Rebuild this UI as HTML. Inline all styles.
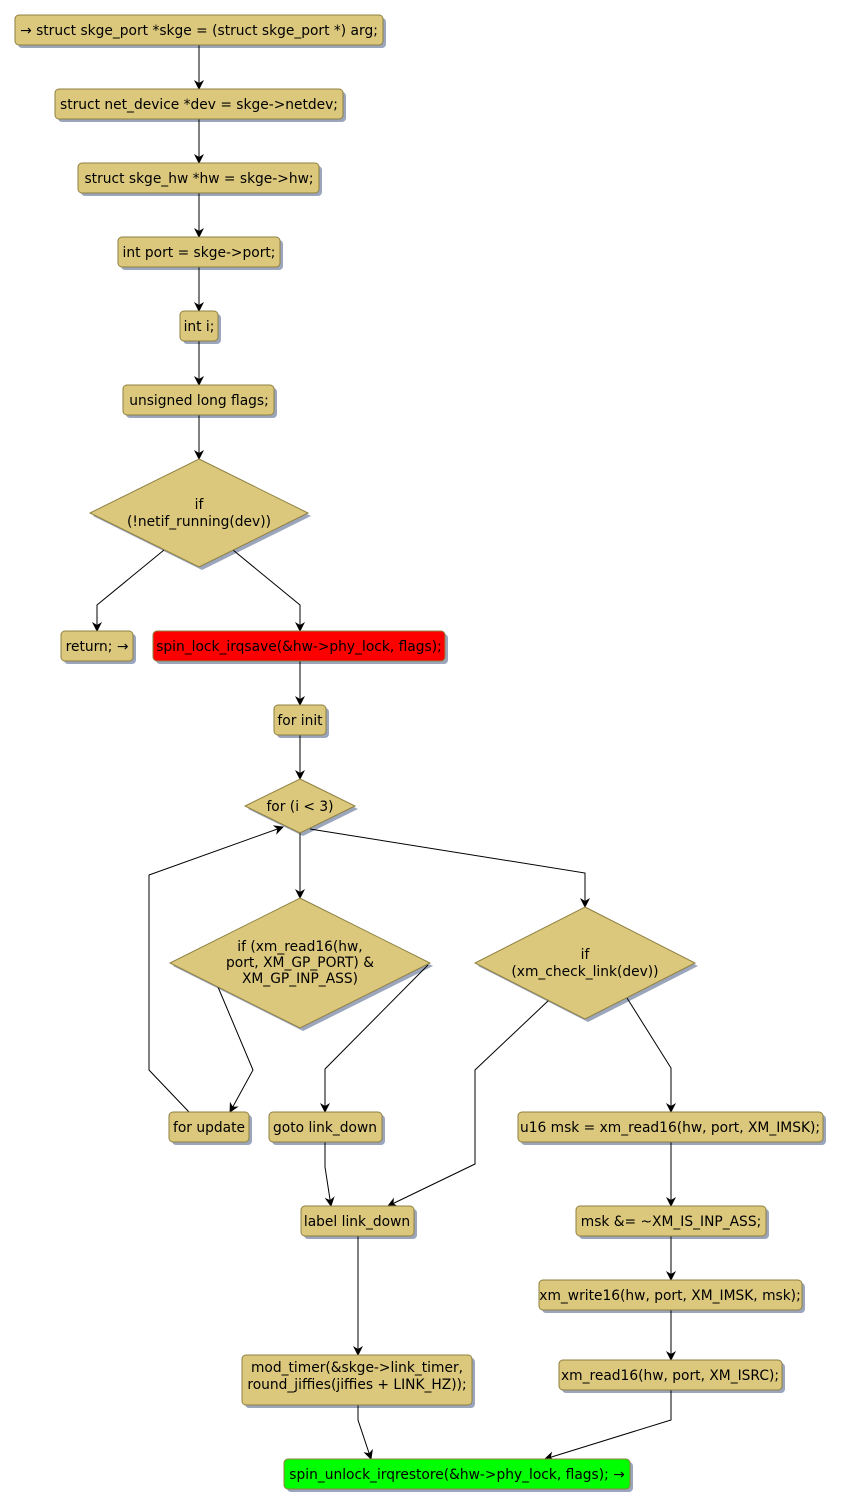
<!DOCTYPE html>
<html><head><meta charset="utf-8"><style>
html,body{margin:0;padding:0;background:#fff;}
svg{display:block;}
text{font-family:"DejaVu Sans","Liberation Sans",sans-serif;font-size:13.8px;fill:#000;}
.b{fill:#dbc87d;stroke:#8f8040;stroke-width:1;}
.s{fill:#9ba6bd;}
.e{fill:none;stroke:#000;stroke-width:1;}
</style></head><body>
<svg width="842" height="1508" viewBox="0 0 842 1508" xmlns="http://www.w3.org/2000/svg">
<defs><marker id="a" markerWidth="10" markerHeight="10" refX="9" refY="5" orient="auto" markerUnits="userSpaceOnUse"><path d="M0,0 L10,5 L0,10 L3,5 z" fill="#000"/></marker></defs>
<g>
<rect class="s" x="18" y="18" width="368" height="30" rx="4"/>
<rect class="s" x="58" y="92" width="288" height="30" rx="4"/>
<rect class="s" x="81" y="166" width="241" height="30" rx="4"/>
<rect class="s" x="121" y="240" width="162" height="30" rx="4"/>
<rect class="s" x="183" y="314" width="38" height="30" rx="4"/>
<rect class="s" x="126" y="388" width="151" height="30" rx="4"/>
<polygon class="s" points="202,462 311,516 202,570 93,516"/>
<rect class="s" x="64" y="634" width="72" height="30" rx="4"/>
<rect class="s" x="156" y="634" width="292" height="30" rx="4"/>
<rect class="s" x="277" y="708" width="52" height="30" rx="4"/>
<polygon class="s" points="303,782 358,809 303,836 248,809"/>
<polygon class="s" points="303,901 433,966 303,1031 173,966"/>
<polygon class="s" points="588,910 698,966 588,1022 478,966"/>
<rect class="s" x="172" y="1115" width="80" height="30" rx="4"/>
<rect class="s" x="272" y="1115" width="113" height="30" rx="4"/>
<rect class="s" x="521" y="1115" width="305" height="30" rx="4"/>
<rect class="s" x="304" y="1209" width="113" height="30" rx="4"/>
<rect class="s" x="579" y="1209" width="190" height="30" rx="4"/>
<rect class="s" x="542" y="1283" width="263" height="30" rx="4"/>
<rect class="s" x="245" y="1358" width="230" height="50" rx="4"/>
<rect class="s" x="562" y="1363" width="223" height="30" rx="4"/>
<rect class="s" x="287" y="1462" width="346" height="30" rx="4"/>
<path class="e" d="M199,45 V89" marker-end="url(#a)"/>
<path class="e" d="M199,119 V163" marker-end="url(#a)"/>
<path class="e" d="M199,193 V237" marker-end="url(#a)"/>
<path class="e" d="M199,267 V311" marker-end="url(#a)"/>
<path class="e" d="M199,341 V385" marker-end="url(#a)"/>
<path class="e" d="M199,415 V459" marker-end="url(#a)"/>
<path class="e" d="M164,550 L97,605 V631" marker-end="url(#a)"/>
<path class="e" d="M233,550 L300,605 V631" marker-end="url(#a)"/>
<path class="e" d="M300,661 V705" marker-end="url(#a)"/>
<path class="e" d="M300,735 V779" marker-end="url(#a)"/>
<path class="e" d="M300,833 V898" marker-end="url(#a)"/>
<path class="e" d="M310,829 L585,873 V907" marker-end="url(#a)"/>
<path class="e" d="M218,987 L253,1070 L230,1112" marker-end="url(#a)"/>
<path class="e" d="M428,965 L325,1069 V1112" marker-end="url(#a)"/>
<path class="e" d="M189,1112 L149,1070 V875 L283,827" marker-end="url(#a)"/>
<path class="e" d="M325,1142 V1167 L331,1206" marker-end="url(#a)"/>
<path class="e" d="M549,1000 L475,1070 V1164 L388,1206" marker-end="url(#a)"/>
<path class="e" d="M627,998 L671,1068 V1112" marker-end="url(#a)"/>
<path class="e" d="M671,1142 V1206" marker-end="url(#a)"/>
<path class="e" d="M671,1236 V1280" marker-end="url(#a)"/>
<path class="e" d="M671,1310 V1360" marker-end="url(#a)"/>
<path class="e" d="M358,1236 V1355" marker-end="url(#a)"/>
<path class="e" d="M358,1405 V1420 L371,1459" marker-end="url(#a)"/>
<path class="e" d="M671,1390 V1420 L545,1459" marker-end="url(#a)"/>
<rect class="b" x="15" y="15" width="368" height="30" rx="4"/>
<text x="199" y="35" text-anchor="middle">→ struct skge_port *skge = (struct skge_port *) arg;</text>
<rect class="b" x="55" y="89" width="288" height="30" rx="4"/>
<text x="199" y="109" text-anchor="middle">struct net_device *dev = skge-&gt;netdev;</text>
<rect class="b" x="78" y="163" width="241" height="30" rx="4"/>
<text x="199" y="183" text-anchor="middle">struct skge_hw *hw = skge-&gt;hw;</text>
<rect class="b" x="118" y="237" width="162" height="30" rx="4"/>
<text x="199" y="257" text-anchor="middle">int port = skge-&gt;port;</text>
<rect class="b" x="180" y="311" width="38" height="30" rx="4"/>
<text x="199" y="331" text-anchor="middle">int i;</text>
<rect class="b" x="123" y="385" width="151" height="30" rx="4"/>
<text x="199" y="405" text-anchor="middle">unsigned long flags;</text>
<polygon class="b" points="199,459 308,513 199,567 90,513"/>
<text x="199" y="509" text-anchor="middle">if</text>
<text x="199" y="526" text-anchor="middle">(!netif_running(dev))</text>
<rect class="b" x="61" y="631" width="72" height="30" rx="4"/>
<text x="97" y="651" text-anchor="middle">return; →</text>
<rect x="153" y="631" width="292" height="30" rx="4" fill="#ff0000" stroke="#8f8040"/>
<text x="299" y="651" text-anchor="middle">spin_lock_irqsave(&amp;hw-&gt;phy_lock, flags);</text>
<rect class="b" x="274" y="705" width="52" height="30" rx="4"/>
<text x="300" y="725" text-anchor="middle">for init</text>
<polygon class="b" points="300,779 355,806 300,833 245,806"/>
<text x="300" y="811" text-anchor="middle">for (i &lt; 3)</text>
<polygon class="b" points="300,898 430,963 300,1028 170,963"/>
<text x="300" y="951" text-anchor="middle">if (xm_read16(hw,</text>
<text x="300" y="967" text-anchor="middle">port, XM_GP_PORT) &amp;</text>
<text x="300" y="983" text-anchor="middle">XM_GP_INP_ASS)</text>
<polygon class="b" points="585,907 695,963 585,1019 475,963"/>
<text x="585" y="959" text-anchor="middle">if</text>
<text x="585" y="976" text-anchor="middle">(xm_check_link(dev))</text>
<rect class="b" x="169" y="1112" width="80" height="30" rx="4"/>
<text x="209" y="1132" text-anchor="middle">for update</text>
<rect class="b" x="269" y="1112" width="113" height="30" rx="4"/>
<text x="325" y="1132" text-anchor="middle">goto link_down</text>
<rect class="b" x="518" y="1112" width="305" height="30" rx="4"/>
<text x="670" y="1132" text-anchor="middle">u16 msk = xm_read16(hw, port, XM_IMSK);</text>
<rect class="b" x="301" y="1206" width="113" height="30" rx="4"/>
<text x="357" y="1226" text-anchor="middle">label link_down</text>
<rect class="b" x="576" y="1206" width="190" height="30" rx="4"/>
<text x="671" y="1226" text-anchor="middle">msk &amp;= ~XM_IS_INP_ASS;</text>
<rect class="b" x="539" y="1280" width="263" height="30" rx="4"/>
<text x="670" y="1300" text-anchor="middle">xm_write16(hw, port, XM_IMSK, msk);</text>
<rect class="b" x="242" y="1355" width="230" height="50" rx="4"/>
<text x="357" y="1372" text-anchor="middle">mod_timer(&amp;skge-&gt;link_timer,</text>
<text x="357" y="1389" text-anchor="middle">round_jiffies(jiffies + LINK_HZ));</text>
<rect class="b" x="559" y="1360" width="223" height="30" rx="4"/>
<text x="670" y="1380" text-anchor="middle">xm_read16(hw, port, XM_ISRC);</text>
<rect x="284" y="1459" width="346" height="30" rx="4" fill="#00ff00" stroke="#8f8040"/>
<text x="457" y="1479" text-anchor="middle">spin_unlock_irqrestore(&amp;hw-&gt;phy_lock, flags); →</text>
</g>
</svg>
</body></html>
